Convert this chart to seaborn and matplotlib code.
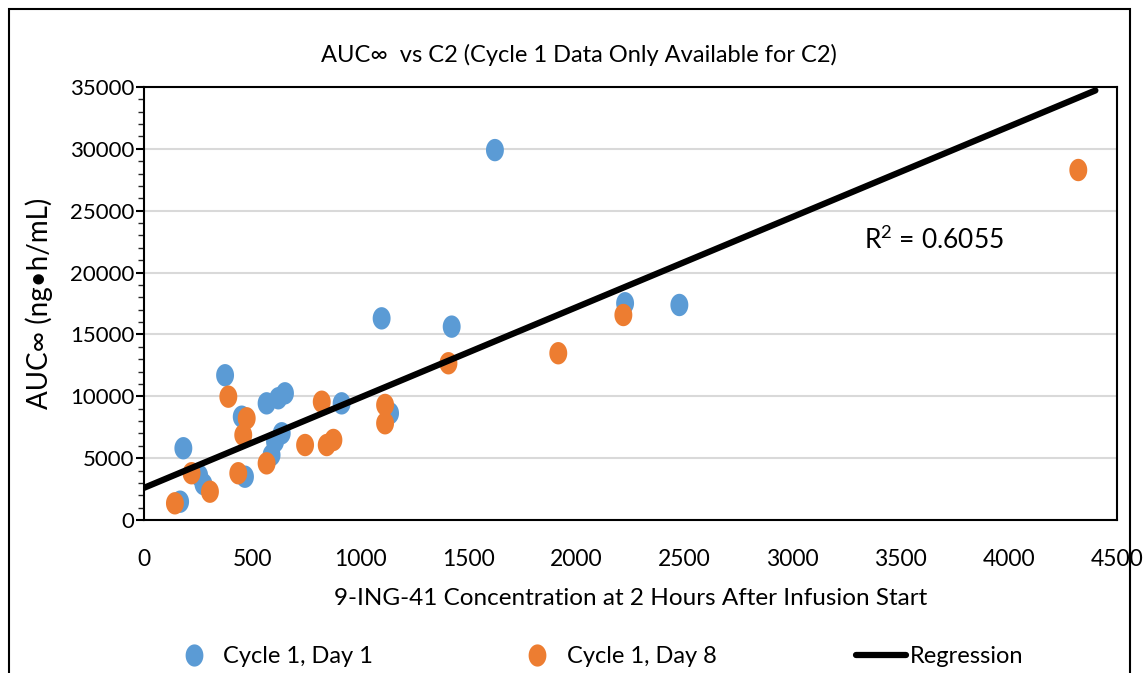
import numpy as np
import pandas as pd
import seaborn as sns
import matplotlib.pyplot as plt
from matplotlib.path import Path
from matplotlib.lines import Line2D
from matplotlib.patches import Rectangle
from matplotlib.ticker import MultipleLocator

# --- Dados ---
day1_c2 = [182, 255, 275, 167, 467, 375, 452, 567, 621, 652,
           637, 606, 590, 914, 1138, 1099, 1423, 2225, 2476, 1623]
day1_auc = [5800, 3600, 2900, 1480, 3500, 11700, 8350, 9430, 9840, 10240,
            7010, 6330, 5250, 9430, 8630, 16300, 15630, 17520, 17380, 29900]

day8_c2 = [220, 305, 143, 436, 459, 390, 475, 567, 822, 745,
           845, 876, 1115, 1115, 1408, 2217, 1916, 4321]
day8_auc = [3780, 2290, 1350, 3780, 6870, 9970, 8220, 4580, 9560, 6060,
            6060, 6470, 9300, 7820, 12670, 16570, 13480, 28290]

reg_slope = 7.3
reg_intercept = 2600
reg_x = [0, 4400]
r2_text = "R$^2$ = 0.6055"

blue = "#5B9BD5"
orange = "#ED7D31"

# --- Estilo ---
sns.set_theme(style="white")
plt.rcParams['font.family'] = ['Lato', 'DejaVu Sans']
plt.rcParams['mathtext.fontset'] = 'custom'
plt.rcParams['mathtext.rm'] = 'Lato'
plt.rcParams['text.color'] = 'black'
plt.rcParams['axes.labelcolor'] = 'black'

df = pd.concat([
    pd.DataFrame({'c2': day1_c2, 'auc': day1_auc, 'grupo': 'Cycle 1, Day 1'}),
    pd.DataFrame({'c2': day8_c2, 'auc': day8_auc, 'grupo': 'Cycle 1, Day 8'}),
])
df_reg = pd.DataFrame({'x': reg_x})
df_reg['y'] = reg_slope * df_reg['x'] + reg_intercept

# marcador elíptico (mais alto que largo)
t = np.linspace(0, 2 * np.pi, 60)
ellipse = Path(np.column_stack([0.8 * np.cos(t), np.sin(t)]), closed=True)

fig = plt.figure(figsize=(11.47, 6.73), dpi=100)
ax = fig.add_axes([144 / 1147, 1 - 520 / 673, (1117 - 144) / 1147, (520 - 87) / 673])

ax.grid(axis='y', color='#d9d9d9', linewidth=1.5)
ax.set_axisbelow(True)

sns.scatterplot(data=df, x='c2', y='auc', hue='grupo', palette=[blue, orange],
                marker=ellipse, s=260, linewidth=0, ax=ax, legend=False, zorder=3)
sns.lineplot(data=df_reg, x='x', y='y', color='black', linewidth=4.5, ax=ax, zorder=4)

ax.set_xlim(0, 4500)
ax.set_ylim(0, 35000)
ax.xaxis.set_major_locator(MultipleLocator(500))
ax.yaxis.set_major_locator(MultipleLocator(5000))
ax.yaxis.set_minor_locator(MultipleLocator(1000))
ax.tick_params(axis='x', which='major', direction='inout', length=14, width=1.5,
               labelsize=16.5, pad=14, colors='black')
ax.tick_params(axis='y', which='major', direction='out', length=6, width=1.5,
               labelsize=16, pad=1, colors='black', left=True)
ax.tick_params(axis='y', which='minor', direction='out', length=4, width=1, left=True)

for sp in ax.spines.values():
    sp.set_color('black')
    sp.set_linewidth(1.5)

ax.set_xlabel("9-ING-41 Concentration at 2 Hours After Infusion Start", fontsize=17.5, labelpad=13)
ax.set_ylabel("AUC∞ (ng•h/mL)", fontsize=20, labelpad=12)
fig.text(0.505, 0.918, "AUC∞  vs C2 (Cycle 1 Data Only Available for C2)",
         ha='center', va='center', fontsize=17)
ax.text(3330, 21900, r2_text, fontsize=19)

handles = [
    Line2D([], [], marker=ellipse, linestyle='none', markersize=16,
           markerfacecolor=blue, markeredgewidth=0, label='Cycle 1, Day 1'),
    Line2D([], [], marker=ellipse, linestyle='none', markersize=16,
           markerfacecolor=orange, markeredgewidth=0, label='Cycle 1, Day 8'),
    Line2D([], [], color='black', linewidth=4.5, label='Regression'),
]
fig.legend(handles=handles, loc='center', bbox_to_anchor=(0.52, 0.024), ncol=3,
           frameon=False, fontsize=17, handlelength=2.1, handletextpad=0.2,
           columnspacing=5.9)

# moldura externa do gráfico
fig.patches.append(Rectangle((9 / 1147, -0.05), (1130 - 9) / 1147, 1.05 - 9 / 673,
                             transform=fig.transFigure, fill=False,
                             edgecolor='black', linewidth=1.5))

plt.savefig("out.png", dpi=100)
plt.close()
